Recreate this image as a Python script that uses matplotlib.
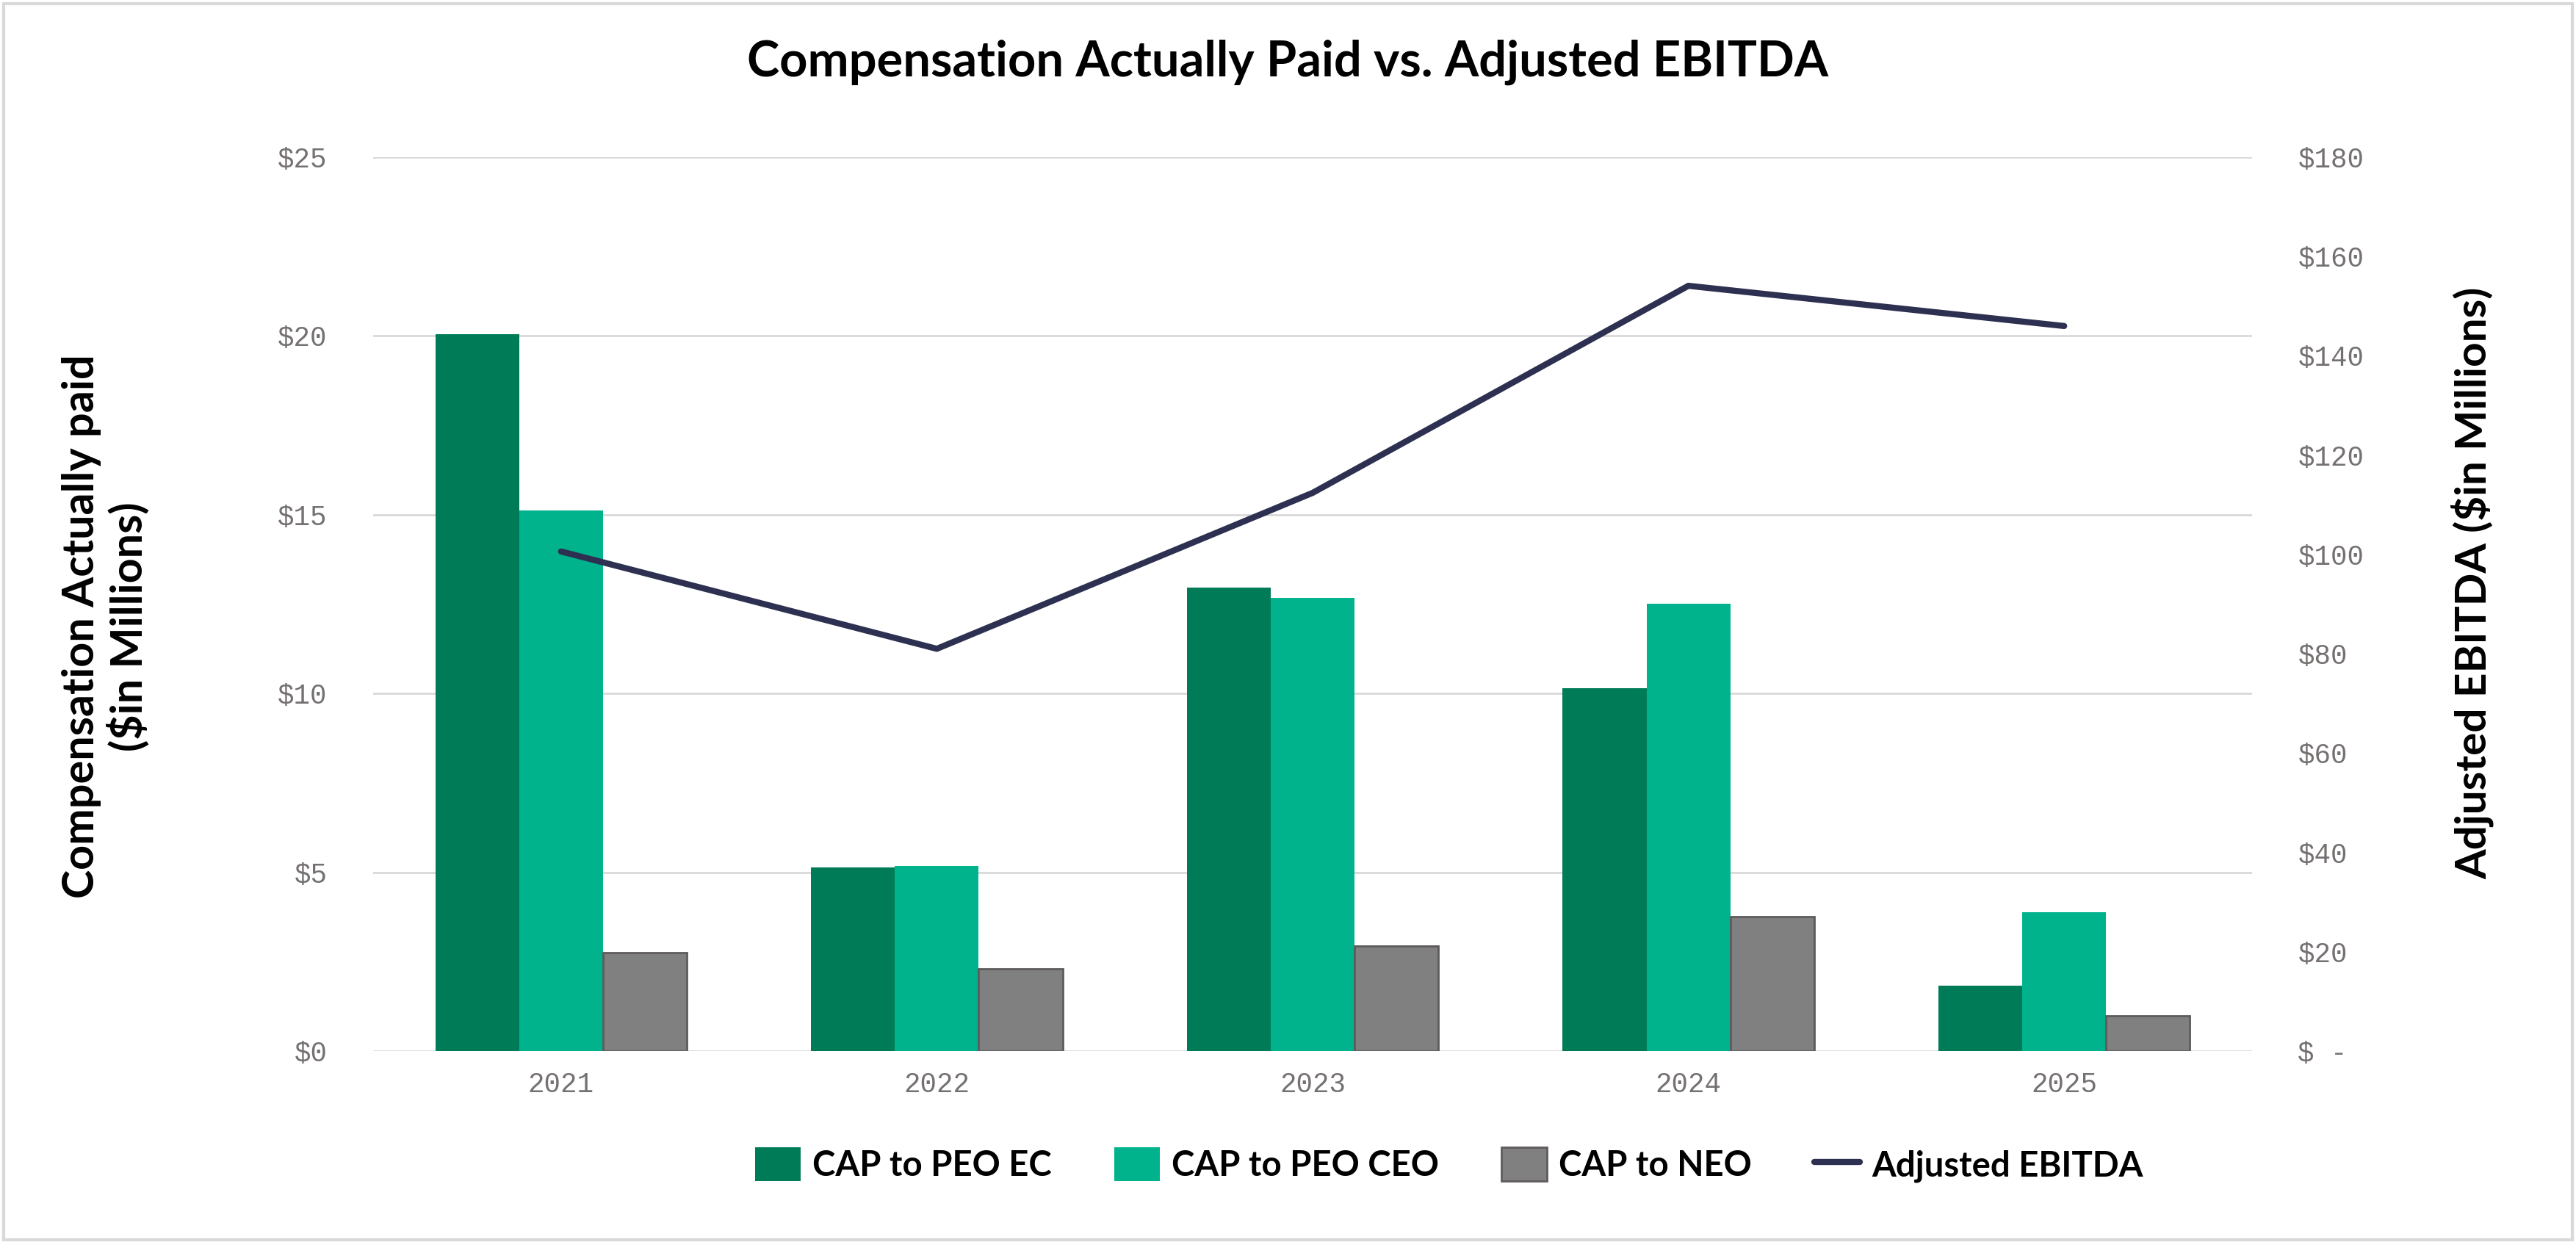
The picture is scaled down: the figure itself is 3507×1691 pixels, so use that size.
import matplotlib
matplotlib.use('Agg')
import matplotlib.pyplot as plt
import numpy as np
from matplotlib.patches import Rectangle
from matplotlib.lines import Line2D
from matplotlib.patches import Patch

# ---------------- data ----------------
years = ['2021', '2022', '2023', '2024', '2025']
cap_peo_ec = [20.05, 5.14, 12.96, 10.15, 1.83]
cap_peo_ceo = [15.12, 5.18, 12.67, 12.51, 3.88]
cap_neo = [2.75, 2.30, 2.94, 3.76, 0.98]
adj_ebitda = [100.6, 81.0, 112.4, 154.1, 146.0]

left_ticks = [0, 5, 10, 15, 20, 25]
left_tick_labels = ['$0', '$5', '$10', '$15', '$20', '$25']
right_ticks = [0, 20, 40, 60, 80, 100, 120, 140, 160, 180]
right_tick_labels = ['$ -', '$20', '$40', '$60', '$80', '$100', '$120', '$140', '$160', '$180']

series_names = ['CAP to PEO EC', 'CAP to PEO CEO', 'CAP to NEO', 'Adjusted EBITDA']
title = 'Compensation Actually Paid vs. Adjusted EBITDA'
left_label = 'Compensation Actually paid\n($in Millions)'
right_label = 'Adjusted EBITDA ($in Millions)'

# ---------------- style ----------------
C_EC = '#007B58'
C_CEO = '#00B38C'
C_NEO = '#808080'
C_NEO_EDGE = '#5F5B5C'
C_LINE = '#2D3050'
C_GRID = '#D9D9D9'
C_TICK = '#767171'
BOLD_FONT = ['Lato', 'DejaVu Sans']
MONO_FONT = ['Liberation Mono', 'DejaVu Sans Mono']

W, H, DPI = 3507, 1691, 100
fig = plt.figure(figsize=(W / DPI, H / DPI), dpi=DPI)
fig.patch.set_facecolor('white')

# outer chart border
fig.add_artist(Rectangle((0.0015, 0.002), 0.997, 0.995, transform=fig.transFigure,
                         fill=False, edgecolor=C_GRID, linewidth=3))

ax_l, ax_r, ax_b, ax_t = 508 / W, 3066 / W, 1 - 1431 / H, 1 - 214 / H
ax = fig.add_axes([ax_l, ax_b, ax_r - ax_l, ax_t - ax_b])
ax2 = ax.twinx()

x = np.arange(len(years))
bw = 0.223
ax.bar(x - bw, cap_peo_ec, width=bw, color=C_EC, linewidth=0, zorder=3)
ax.bar(x, cap_peo_ceo, width=bw, color=C_CEO, linewidth=0, zorder=3)
ax.bar(x + bw, cap_neo, width=bw, color=C_NEO, edgecolor=C_NEO_EDGE, linewidth=2, zorder=3)

ax2.plot(x, adj_ebitda, color=C_LINE, linewidth=6, solid_capstyle='round',
         solid_joinstyle='round', zorder=4)

ax.set_xlim(-0.5, len(years) - 0.5)
ax.set_ylim(0, 25)
ax2.set_ylim(0, 180)

ax.set_yticks(left_ticks)
ax.set_yticklabels(left_tick_labels)
ax2.set_yticks(right_ticks)
ax2.set_yticklabels(right_tick_labels)
ax.set_xticks(x)
ax.set_xticklabels(years)

for a in (ax, ax2):
    for s in a.spines.values():
        s.set_visible(False)
    a.set_facecolor('none')
ax.grid(axis='y', color=C_GRID, linewidth=2, zorder=0)
ax.set_axisbelow(True)

ax.tick_params(axis='y', length=0, pad=45, labelsize=27, labelcolor=C_TICK)
ax2.tick_params(axis='y', length=0, pad=45, labelsize=27, labelcolor=C_TICK)
ax.tick_params(axis='x', length=0, pad=20, labelsize=27, labelcolor=C_TICK)
for lab in ax.get_yticklabels() + ax.get_xticklabels() + ax2.get_yticklabels():
    lab.set_family(MONO_FONT)

# ---------------- texts ----------------
t_title = fig.text(0.5, 1 - 85 / H, title, ha='center', va='center',
                   fontsize=42, fontweight='bold', family=BOLD_FONT, color='black')
t_left = fig.text(144 / W, 1 - 853 / H, left_label, ha='center', va='center',
                  rotation=90, fontsize=37, fontweight='bold', family=BOLD_FONT,
                  color='black', multialignment='center', linespacing=1.15)
t_right = fig.text(3366 / W, 1 - 794 / H, right_label, ha='center', va='center',
                   rotation=90, fontsize=37, fontweight='bold', family=BOLD_FONT,
                   color='black')

fig.canvas.draw()
r = fig.canvas.get_renderer()


def fit(t, target, use_height=False):
    bb = t.get_window_extent(r)
    cur = bb.height if use_height else bb.width
    t.set_fontsize(t.get_fontsize() * target / cur)


fit(t_title, 1471)
# longest line of left label ~741 px; measure first line only
tmp = fig.text(0, 0, 'Compensation Actually paid', fontsize=37, fontweight='bold', family=BOLD_FONT)
bb = tmp.get_window_extent(r)
t_left.set_fontsize(37 * 741 / bb.width)
tmp.remove()
fit(t_right, 806, use_height=True)

tmp = fig.text(0, 0, 'CAP to PEO EC', fontsize=33, fontweight='bold', family=BOLD_FONT)
bb = tmp.get_window_extent(r)
leg_fs = 33 * 326 / bb.width
tmp.remove()

handles = [Patch(facecolor=C_EC, edgecolor='none'),
           Patch(facecolor=C_CEO, edgecolor='none'),
           Patch(facecolor=C_NEO, edgecolor=C_NEO_EDGE, linewidth=2),
           Line2D([0], [0], color=C_LINE, linewidth=6, solid_capstyle='round')]
leg = fig.legend(handles, series_names, loc='center', bbox_to_anchor=(1973 / W, 1 - 1586 / H),
                 ncol=4, frameon=False, handlelength=1.3, handleheight=1.1,
                 handletextpad=0.35, columnspacing=1.8,
                 prop={'family': BOLD_FONT, 'weight': 'bold', 'size': leg_fs})

fig.savefig('out.png', dpi=DPI, facecolor='white')
